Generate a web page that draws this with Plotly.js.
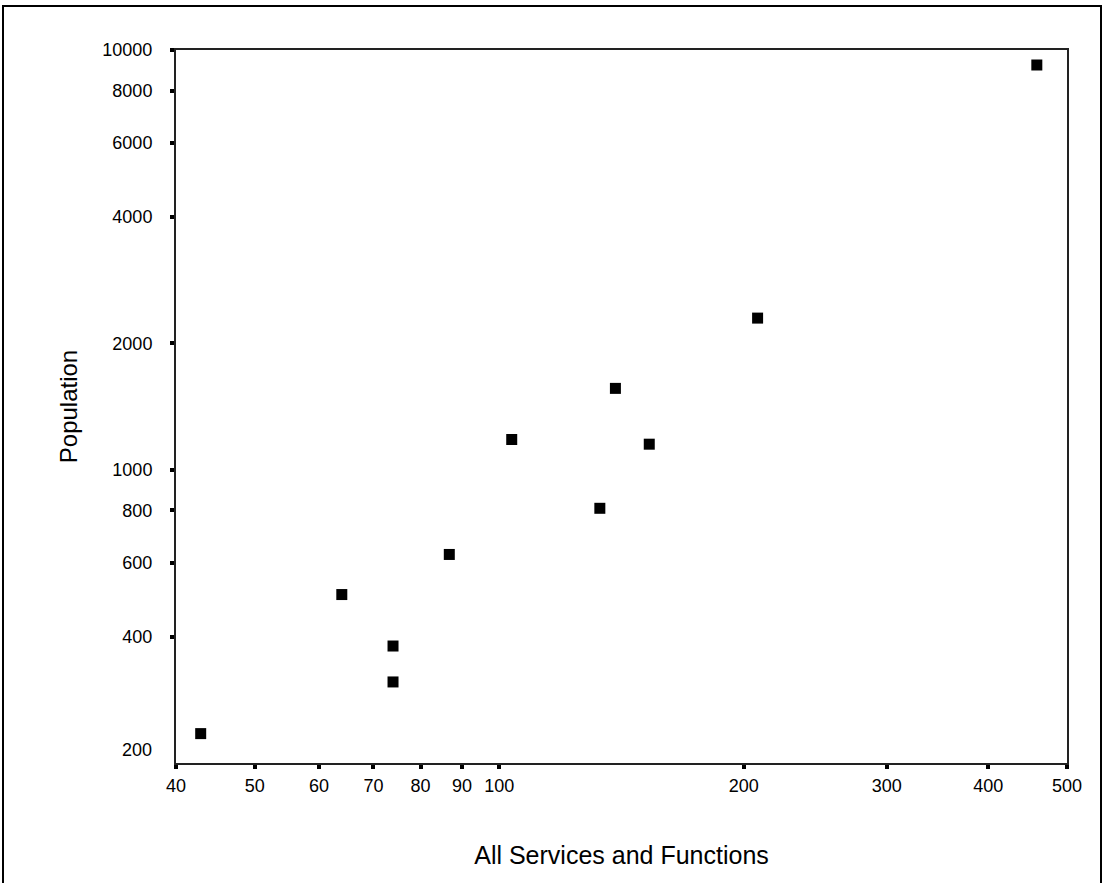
<!DOCTYPE html>
<html>
<head>
<meta charset="utf-8">
<script src="https://cdn.plot.ly/plotly-3.0.1.min.js"></script>
<style>
  html, body { margin: 0; padding: 0; background: #fff; }
  #chart { width: 1104px; height: 883px; }
</style>
</head>
<body>
<div id="chart"></div>
<script>
// Data (log-log scatter)
const services = [42.9, 64.0, 74.0, 74.0, 86.8, 103.6, 133, 139, 153, 208, 459];
const population = [235, 504, 380, 312, 628, 1180, 809, 1562, 1150, 2297, 9210];

const xTickVals = [40, 50, 60, 70, 80, 90, 100, 200, 300, 400, 500];
const xTickText = ["40", "50", "60", "70", "80", "90", "100", "200", "300", "400", "500"];
const yTickVals = [400, 600, 800, 1000, 2000, 4000, 6000, 8000, 10000];
const yTickText = ["400", "600", "800", "1000", "2000", "4000", "6000", "8000", "10000"];
const yBottomLabel = "200";

const xTitle = "All Services and Functions";
const yTitle = "Population";

const font = "Liberation Sans, Arial, sans-serif";

const trace = {
  type: "scatter",
  mode: "markers",
  x: services,
  y: population,
  marker: { symbol: "square", size: 11, color: "#000000", line: { width: 0 } },
  hoverinfo: "x+y"
};

const layout = {
  width: 1104,
  height: 883,
  margin: { l: 176, r: 37, t: 50, b: 120, autoexpand: false },
  paper_bgcolor: "#ffffff",
  plot_bgcolor: "#ffffff",
  showlegend: false,
  font: { family: font, size: 18, color: "#000000" },
  xaxis: {
    type: "log",
    range: [Math.log10(40), Math.log10(500)],
    tickmode: "array",
    tickvals: xTickVals,
    ticktext: xTickText,
    ticks: "outside",
    ticklen: 4,
    tickwidth: 4,
    tickcolor: "#000000",
    showline: true,
    linecolor: "#222222",
    linewidth: 2,
    mirror: true,
    showgrid: false,
    zeroline: false,
    automargin: false,
    tickfont: { family: font, size: 18, color: "#000000" },
    ticklabelstandoff: 1,
    title: { text: xTitle, font: { family: font, size: 25, color: "#000000" }, standoff: 52 }
  },
  yaxis: {
    type: "log",
    range: [Math.log10(200), 4],
    tickmode: "array",
    tickvals: yTickVals,
    ticktext: yTickText,
    ticks: "outside",
    ticklen: 4,
    tickwidth: 4,
    tickcolor: "#000000",
    showline: true,
    linecolor: "#222222",
    linewidth: 2,
    mirror: true,
    showgrid: false,
    zeroline: false,
    automargin: false,
    tickfont: { family: font, size: 18, color: "#000000" },
    ticklabelstandoff: 14,
    title: { text: yTitle, font: { family: font, size: 24, color: "#000000" }, standoff: 18 }
  },
  annotations: [
    {
      xref: "paper", yref: "y",
      x: 0, y: Math.log10(200),
      xanchor: "right", yanchor: "middle",
      xshift: -22, yshift: 13,
      text: yBottomLabel,
      showarrow: false,
      font: { family: font, size: 18, color: "#000000" }
    }
  ],
  shapes: [
    {
      type: "rect", xref: "paper", yref: "paper",
      x0: (3 - 176) / 891, x1: (1101 - 176) / 891,
      y0: (763 - 890) / 713, y1: (763 - 6) / 713,
      line: { color: "#000000", width: 2 },
      fillcolor: "rgba(0,0,0,0)",
      layer: "below"
    }
  ]
};

Plotly.newPlot("chart", [trace], layout, { displayModeBar: false, staticPlot: true });
</script>
</body>
</html>
